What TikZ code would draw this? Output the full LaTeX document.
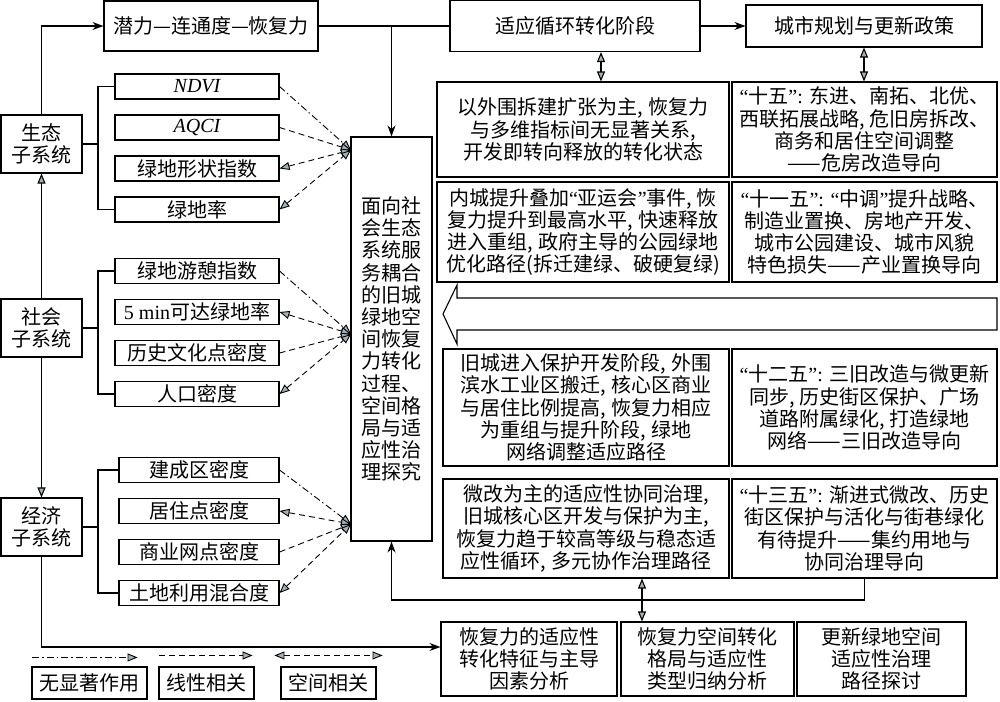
\documentclass[tikz,border=0pt]{standalone}
\usepackage{fontspec}
\setmainfont{Noto Sans CJK SC}
\newfontfamily\tnr{Liberation Serif}
\usetikzlibrary{arrows.meta,calc}

\definecolor{tipgray}{RGB}{160,178,184}
\newcommand{\ql}{{\tnr “}}
\newcommand{\qr}{{\tnr ”}}

\begin{document}
\begin{tikzpicture}[x=1pt, y=-1pt,
    cell/.style={draw, line width=1.1pt, inner sep=2pt, align=center,
        font=\fontsize{20}{22.2}\selectfont},
    sub/.style={cell, minimum width=81pt, minimum height=58pt},
    ind/.style={cell, inner sep=0pt, minimum width=164pt, minimum height=25pt},
    indb/.style={ind, minimum width=160pt},
    link/.style={line width=1.1pt},
    gtri/.tip={Triangle[length=10pt, width=8pt, fill=tipgray]},
    go/.style={link, -{Stealth[length=11pt, width=8pt]}},
    both/.style={link, {gtri}-{gtri}},
    nosig/.style={line width=0.9pt, dash pattern=on 7pt off 3pt on 1.5pt off 3pt, -{gtri}},
    lin/.style={line width=0.9pt, dash pattern=on 6pt off 4pt, -{gtri}},
    spat/.style={lin, {gtri}-{gtri}}]

    % Fix the frame of the picture
    \useasboundingbox (0,0) rectangle (1000,701);

    % The three subsystems on the left
    \node[sub] (eco) at (41.5,144) {生态\\子系统};
    \node[sub] (soc) at (41.5,328) {社会\\子系统};
    \node[sub] (econ) at (41.5,527) {经济\\子系统};

    % Indicators of each subsystem
    \node[ind] (i1) at (197,86.5) {\tnr\itshape NDVI};
    \node[ind] (i2) at (197,127.5) {\tnr\itshape AQCI};
    \node[ind] (i3) at (197,168.5) {绿地形状指数};
    \node[ind] (i4) at (197,209.5) {绿地率};
    \node[ind] (i5) at (197,271) {绿地游憩指数};
    \node[ind] (i6) at (197,312) {{\tnr 5 min}可达绿地率};
    \node[ind] (i7) at (197,353) {历史文化点密度};
    \node[ind] (i8) at (197,394) {人口密度};
    \node[indb] (i9) at (199,470) {建成区密度};
    \node[indb] (i10) at (199,511) {居住点密度};
    \node[indb] (i11) at (199,552) {商业网点密度};
    \node[indb] (i12) at (199,593) {土地利用混合度};

    % The central research box
    \node[cell, minimum width=81pt, minimum height=404pt] (cent) at (391.5,339)
        {面向社\\会生态\\系统服\\务耦合\\的旧城\\绿地空\\间恢复\\力转化\\过程、\\空间格\\局与适\\应性治\\理探究};

    % Top row
    \node[cell, minimum width=214pt, minimum height=50pt] (pot) at (211,26) {潜力—连通度—恢复力};
    \node[cell, minimum width=250pt, minimum height=51pt] (stage) at (575,26) {适应循环转化阶段};
    \node[cell, minimum width=236pt, minimum height=42pt] (policy) at (864,26) {城市规划与更新政策};

    % Stages (left) and policies (right)
    \node[cell, minimum width=292pt, minimum height=95pt] (r1a) at (583,129.5)
        {以外围拆建扩张为主, 恢复力\\与多维指标间无显著关系,\\开发即转向释放的转化状态};
    \node[cell, minimum width=265pt, minimum height=95pt] (r1b) at (864.5,129.5)
        {\ql 十五\qr{\tnr: }东进、南拓、北优、\\西联拓展战略, 危旧房拆改、\\商务和居住空间调整\\——危房改造导向};
    \node[cell, minimum width=292pt, minimum height=100pt] (r2a) at (583,232)
        {内城提升叠加\ql 亚运会\qr 事件, 恢\\复力提升到最高水平, 快速释放\\进入重组, 政府主导的公园绿地\\优化路径(拆迁建绿、破硬复绿)};
    \node[cell, minimum width=265pt, minimum height=100pt] (r2b) at (864.5,232)
        {\ql 十一五\qr{\tnr: }\ql 中调\qr 提升战略、\\制造业置换、房地产开发、\\城市公园建设、城市风貌\\特色损失——产业置换导向};
    \node[cell, minimum width=286pt, minimum height=117pt] (r3a) at (586,407.5)
        {旧城进入保护开发阶段, 外围\\滨水工业区搬迁, 核心区商业\\与居住比例提高, 恢复力相应\\为重组与提升阶段, 绿地\\网络调整适应路径};
    \node[cell, minimum width=265pt, minimum height=117pt] (r3b) at (864.5,407.5)
        {\ql 十二五\qr{\tnr: }三旧改造与微更新\\同步, 历史街区保护、广场\\道路附属绿化, 打造绿地\\网络——三旧改造导向};
    \node[cell, minimum width=286pt, minimum height=99pt] (r4a) at (586,528.5)
        {微改为主的适应性协同治理,\\旧城核心区开发与保护为主,\\恢复力趋于较高等级与稳态适\\应性循环, 多元协作治理路径};
    \node[cell, minimum width=265pt, minimum height=99pt] (r4b) at (864.5,528.5)
        {\ql 十三五\qr{\tnr: }渐进式微改、历史\\街区保护与活化与街巷绿化\\有待提升——集约用地与\\协同治理导向};

    % Bottom row of analyses
    \node[cell, minimum width=176pt, minimum height=74pt] (b1) at (529,659) {恢复力的适应性\\转化特征与主导\\因素分析};
    \node[cell, minimum width=173pt, minimum height=74pt] (b2) at (707.5,659) {恢复力空间转化\\格局与适应性\\类型归纳分析};
    \node[cell, minimum width=169pt, minimum height=74pt] (b3) at (881.5,659) {更新绿地空间\\适应性治理\\路径探讨};

    % Legend
    \node[cell, minimum width=115pt, minimum height=32pt] (lg1) at (89.5,683) {无显著作用};
    \node[cell, minimum width=95pt, minimum height=32pt] (lg2) at (206.5,683) {线性相关};
    \node[cell, minimum width=95pt, minimum height=32pt] (lg3) at (328.5,683) {空间相关};
    \draw[nosig] ($(lg1.north west)+(1,-9)$) -- ($(lg1.north east)+(-10,-9)$);
    \draw[lin] ($(lg2.north west)+(1,-11)$) -- ($(lg2.north east)+(-2,-11)$);
    \draw[spat] ($(lg3.north west)+(-6,-11)$) -- ($(lg3.north east)+(6,-11)$);

    % Brackets from the subsystems to their indicators
    \coordinate (k1) at (98,144);
    \coordinate (k2) at (98,328);
    \coordinate (k3) at (98,527);
    \draw[link] (eco.east) -- (k1);
    \draw[link] (i1.west) -| (k1) |- (i4.west);
    \draw[link] (soc.east) -- (k2);
    \draw[link] (i5.west) -| (k2) |- (i8.west);
    \draw[link] (econ.east) -- (k3);
    \draw[link] (i9.west) -| (k3) |- (i12.west);

    % Links between the subsystems
    \draw[link, {gtri}-] (eco.south) -- (soc.north);
    \draw[link, -{gtri}] (soc.south) -- (econ.north);

    % Indicator relations to the central box
    \coordinate (c1) at (351,150);
    \coordinate (c2) at (351,334);
    \coordinate (c3) at (351,524);
    \draw[nosig] (i1.east) -- (c1);
    \draw[lin] (i2.east) -- (c1);
    \draw[spat] (i3.east) -- (c1);
    \draw[spat] (i4.east) -- (c1);
    \draw[nosig] (i5.east) -- (c2);
    \draw[spat] (i6.east) -- (c2);
    \draw[lin] (i7.east) -- (c2);
    \draw[spat] (i8.east) -- (c2);
    \draw[nosig] (i9.east) -- (c3);
    \draw[spat] (i10.east) -- (c3);
    \draw[lin] (i11.east) -- (c3);
    \draw[spat] (i12.east) -- (c3);

    % Top chain of connectors
    \draw[go] (eco.north) |- (pot.west);
    \draw[link] (pot.east) -- (stage.west);
    \draw[go] (cent.north |- pot.east) -- (cent.north);
    \draw[go] (stage.east) -- (policy.west);
    \coordinate (s1) at (601,0);
    \draw[both] (stage.south -| s1) -- (r1a.north -| s1);
    \draw[both] (policy.south) -- (policy.south |- r1b.north);

    % Large hollow arrow pointing back to the central box
    \draw[link] (997,298) -- (457,298) -- (457,285) -- (443,314) -- (457,344)
        -- (457,330) -- (997,330) -- cycle;

    % Feedback loop and bottom connectors
    \coordinate (s2) at (0,600);
    \draw[go] (r4b.south) -- (r4b.south |- s2) -- (cent.south |- s2) -- (cent.south);
    \coordinate (s3) at (642,0);
    \draw[both] (r4a.south -| s3) -- (b2.north -| s3);
    \draw[go] (econ.south) |- ($(b1.west)+(0,-12)$);

\end{tikzpicture}
\end{document}
